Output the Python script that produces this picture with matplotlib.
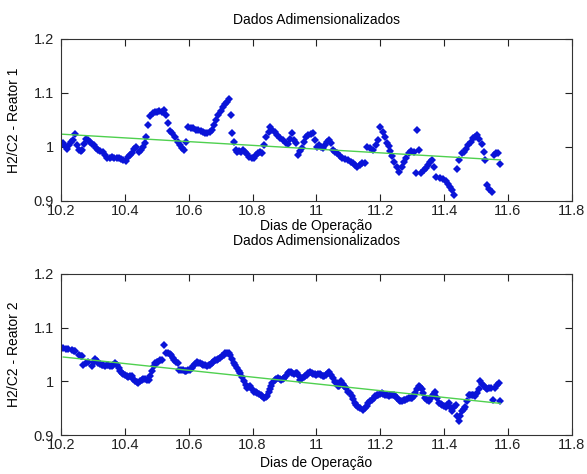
import numpy as np
import matplotlib
matplotlib.use("Agg")
import matplotlib.pyplot as plt
from matplotlib.ticker import FormatStrFormatter

# Reator 1 (dias, H2/C2 adimensional)
dias_r1 = [
    10.205, 10.212, 10.218, 10.225, 10.232, 10.238, 10.245, 10.250, 10.255, 10.261,
    10.266, 10.272, 10.278, 10.284, 10.290, 10.296, 10.302, 10.308, 10.315, 10.322,
    10.330, 10.337, 10.345, 10.352, 10.360, 10.367, 10.374, 10.381, 10.388, 10.395,
    10.402, 10.409, 10.416, 10.423, 10.430, 10.436, 10.443, 10.450, 10.456, 10.462,
    10.467, 10.472, 10.480, 10.487, 10.494, 10.501, 10.508, 10.515, 10.522, 10.528,
    10.535, 10.542, 10.548, 10.557, 10.565, 10.572, 10.580, 10.586, 10.592, 10.598,
    10.606, 10.614, 10.622, 10.630, 10.638, 10.645, 10.652, 10.658, 10.666, 10.673,
    10.679, 10.684, 10.692, 10.700, 10.708, 10.715, 10.720, 10.725, 10.731, 10.736,
    10.741, 10.747, 10.752, 10.758, 10.764, 10.770, 10.776, 10.782, 10.790, 10.797,
    10.804, 10.810, 10.816, 10.822, 10.829, 10.836, 10.843, 10.850, 10.856, 10.862,
    10.870, 10.877, 10.886, 10.896, 10.904, 10.910, 10.917, 10.924, 10.930, 10.935,
    10.943, 10.950, 10.956, 10.962, 10.968, 10.975, 10.982, 10.988, 10.995, 11.002,
    11.008, 11.015, 11.022, 11.028, 11.034, 11.040, 11.046, 11.053, 11.059, 11.066,
    11.073, 11.081, 11.090, 11.100, 11.108, 11.115, 11.122, 11.128, 11.136, 11.144,
    11.153, 11.160, 11.169, 11.178, 11.186, 11.194, 11.200, 11.208, 11.216, 11.222,
    11.227, 11.232, 11.237, 11.244, 11.252, 11.260, 11.267, 11.274, 11.282, 11.290,
    11.296, 11.305, 11.312, 11.316, 11.322, 11.328, 11.336, 11.343, 11.350, 11.356,
    11.362, 11.368, 11.375, 11.386, 11.397, 11.406, 11.413, 11.420, 11.425, 11.430,
    11.440, 11.448, 11.455, 11.462, 11.468, 11.476, 11.484, 11.490, 11.497, 11.503,
    11.510, 11.518, 11.524, 11.528, 11.534, 11.542, 11.550, 11.556, 11.563, 11.570,
    11.576,
]
h2c2_r1 = [
    1.007, 1.002, 0.997, 1.003, 1.009, 1.012, 1.024, 1.004, 0.995, 0.992,
    0.995, 1.006, 1.015, 1.012, 1.009, 1.006, 1.004, 0.998, 0.995, 0.993,
    0.990, 0.985, 0.979, 0.980, 0.981, 0.980, 0.979, 0.980, 0.978, 0.976,
    0.974, 0.981, 0.985, 0.989, 0.996, 0.999, 0.990, 0.994, 0.999, 1.008,
    1.018, 1.040, 1.058, 1.063, 1.064, 1.064, 1.066, 1.065, 1.068, 1.060,
    1.044, 1.030, 1.025, 1.018, 1.010, 1.004, 0.998, 0.994, 1.009, 1.036,
    1.035, 1.035, 1.032, 1.031, 1.029, 1.027, 1.026, 1.025, 1.028, 1.031,
    1.040, 1.049, 1.059, 1.066, 1.074, 1.079, 1.083, 1.088, 1.059, 1.025,
    1.009, 0.995, 0.990, 0.992, 0.990, 0.994, 0.990, 0.987, 0.981, 0.979,
    0.980, 0.985, 0.988, 0.990, 0.988, 1.003, 1.018, 1.028, 1.036, 1.031,
    1.027, 1.022, 1.016, 1.012, 1.007, 1.006, 1.014, 1.025, 1.012, 1.007,
    0.985, 0.992, 0.998, 1.010, 1.018, 1.023, 1.024, 1.025, 1.012, 0.999,
    1.003, 1.000, 0.998, 1.004, 1.009, 1.012, 1.008, 0.995, 0.990, 0.988,
    0.984, 0.979, 0.977, 0.975, 0.972, 0.970, 0.966, 0.962, 0.967, 0.970,
    0.970, 0.999, 0.998, 0.994, 1.004, 1.012, 1.036, 1.027, 1.019, 1.008,
    1.001, 0.992, 0.983, 0.972, 0.962, 0.954, 0.963, 0.972, 0.980, 0.988,
    0.993, 0.990, 0.951, 1.031, 0.994, 0.951, 0.957, 0.961, 0.966, 0.972,
    0.975, 0.962, 0.944, 0.943, 0.941, 0.937, 0.932, 0.925, 0.920, 0.911,
    0.960, 0.975, 0.988, 0.991, 0.997, 1.003, 1.010, 1.016, 1.019, 1.022,
    1.014, 1.005, 0.990, 0.975, 0.929, 0.922, 0.917, 0.985, 0.988, 0.988,
    0.969,
]

# Reator 2
dias_r2 = [
    10.207, 10.215, 10.223, 10.233, 10.240, 10.245, 10.255, 10.262, 10.266, 10.270,
    10.278, 10.286, 10.296, 10.302, 10.307, 10.312, 10.317, 10.323, 10.328, 10.333,
    10.338, 10.343, 10.348, 10.354, 10.359, 10.364, 10.369, 10.375, 10.380, 10.385,
    10.390, 10.395, 10.400, 10.406, 10.411, 10.416, 10.421, 10.426, 10.432, 10.437,
    10.442, 10.448, 10.453, 10.458, 10.463, 10.469, 10.474, 10.479, 10.484, 10.490,
    10.495, 10.500, 10.505, 10.511, 10.516, 10.523, 10.528, 10.534, 10.540, 10.545,
    10.550, 10.555, 10.561, 10.566, 10.571, 10.577, 10.582, 10.588, 10.593, 10.598,
    10.603, 10.609, 10.614, 10.620, 10.625, 10.630, 10.635, 10.641, 10.646, 10.651,
    10.656, 10.662, 10.667, 10.672, 10.677, 10.683, 10.688, 10.693, 10.698, 10.704,
    10.709, 10.714, 10.720, 10.725, 10.730, 10.736, 10.741, 10.746, 10.751, 10.757,
    10.762, 10.767, 10.772, 10.778, 10.783, 10.788, 10.793, 10.799, 10.804, 10.810,
    10.815, 10.820, 10.825, 10.831, 10.836, 10.841, 10.846, 10.851, 10.854, 10.858,
    10.862, 10.869, 10.875, 10.880, 10.885, 10.890, 10.895, 10.900, 10.905, 10.910,
    10.915, 10.920, 10.925, 10.930, 10.935, 10.940, 10.945, 10.950, 10.955, 10.960,
    10.965, 10.970, 10.975, 10.980, 10.985, 10.990, 10.995, 11.000, 11.005, 11.010,
    11.015, 11.020, 11.025, 11.030, 11.035, 11.040, 11.046, 11.052, 11.058, 11.063,
    11.068, 11.072, 11.077, 11.083, 11.088, 11.093, 11.099, 11.105, 11.110, 11.115,
    11.120, 11.125, 11.130, 11.138, 11.146, 11.152, 11.157, 11.163, 11.168, 11.174,
    11.179, 11.184, 11.189, 11.194, 11.200, 11.205, 11.210, 11.216, 11.221, 11.226,
    11.232, 11.237, 11.242, 11.247, 11.252, 11.258, 11.263, 11.268, 11.273, 11.279,
    11.284, 11.290, 11.295, 11.300, 11.305, 11.310, 11.315, 11.320, 11.325, 11.330,
    11.335, 11.340, 11.346, 11.352, 11.357, 11.363, 11.368, 11.373, 11.378, 11.383,
    11.389, 11.394, 11.400, 11.405, 11.410, 11.415, 11.420, 11.426, 11.430, 11.436,
    11.440, 11.446, 11.450, 11.455, 11.461, 11.467, 11.472, 11.477, 11.482, 11.487,
    11.492, 11.498, 11.503, 11.508, 11.514, 11.519, 11.524, 11.530, 11.535, 11.540,
    11.546, 11.554, 11.560, 11.566, 11.572, 11.576,
]
h2c2_r2 = [
    1.062, 1.061, 1.060, 1.059, 1.057, 1.056, 1.050, 1.047, 1.047, 1.031,
    1.034, 1.037, 1.028, 1.036, 1.042, 1.038, 1.035, 1.033, 1.031, 1.030,
    1.028, 1.030, 1.031, 1.029, 1.028, 1.031, 1.034, 1.030, 1.025, 1.020,
    1.016, 1.013, 1.012, 1.010, 1.009, 1.010, 1.011, 1.005, 1.000, 0.998,
    0.997, 1.001, 1.003, 1.004, 1.004, 1.003, 1.003, 1.011, 1.019, 1.028,
    1.034, 1.036, 1.037, 1.039, 1.040, 1.068, 1.052, 1.053, 1.051, 1.050,
    1.044, 1.040, 1.036, 1.034, 1.022, 1.022, 1.022, 1.020, 1.019, 1.021,
    1.022, 1.025, 1.028, 1.033, 1.037, 1.035, 1.034, 1.032, 1.031, 1.030,
    1.028, 1.030, 1.031, 1.034, 1.037, 1.039, 1.040, 1.042, 1.044, 1.047,
    1.050, 1.052, 1.053, 1.052, 1.050, 1.042, 1.034, 1.030, 1.025, 1.020,
    1.016, 1.008, 1.000, 0.993, 0.988, 0.990, 0.991, 0.986, 0.981, 0.980,
    0.978, 0.977, 0.975, 0.972, 0.969, 0.971, 0.972, 0.980, 0.985, 0.991,
    0.997, 1.003, 1.005, 1.006, 1.004, 1.003, 1.005, 1.006, 1.011, 1.016,
    1.017, 1.017, 1.015, 1.014, 1.015, 1.016, 1.010, 1.003, 1.006, 1.009,
    1.011, 1.012, 1.015, 1.017, 1.015, 1.014, 1.013, 1.012, 1.013, 1.014,
    1.012, 1.011, 1.011, 1.012, 1.015, 1.017, 1.012, 1.006, 0.999, 0.997,
    0.991, 0.991, 1.000, 0.996, 0.991, 0.988, 0.981, 0.978, 0.972, 0.967,
    0.960, 0.957, 0.953, 0.950, 0.947, 0.950, 0.955, 0.960, 0.963, 0.966,
    0.969, 0.972, 0.974, 0.975, 0.977, 0.978, 0.977, 0.975, 0.974, 0.972,
    0.974, 0.975, 0.974, 0.972, 0.969, 0.966, 0.964, 0.963, 0.965, 0.966,
    0.968, 0.969, 0.969, 0.969, 0.973, 0.978, 0.985, 0.992, 0.989, 0.986,
    0.978, 0.969, 0.966, 0.963, 0.967, 0.972, 0.977, 0.981, 0.970, 0.960,
    0.958, 0.957, 0.955, 0.953, 0.957, 0.960, 0.952, 0.944, 0.953, 0.957,
    0.935, 0.926, 0.935, 0.944, 0.949, 0.953, 0.964, 0.975, 0.975, 0.975,
    0.974, 0.972, 0.979, 0.985, 1.000, 0.995, 0.991, 0.988, 0.985, 0.987,
    0.988, 0.966, 0.988, 0.993, 0.997, 0.963,
]

x_ticks = [10.2, 10.4, 10.6, 10.8, 11.0, 11.2, 11.4, 11.6, 11.8]
y_ticks = [0.9, 1.0, 1.1, 1.2]

plt.rcParams["font.family"] = ["Liberation Sans", "DejaVu Sans"]
plt.rcParams["font.size"] = 10

fig = plt.figure(figsize=(5.87, 4.74), dpi=100)
ax1 = fig.add_axes([0.104, 0.576, 0.870, 0.342])
ax2 = fig.add_axes([0.104, 0.082, 0.870, 0.340])

panels = [
    (ax1, dias_r1, h2c2_r1, "H2/C2 - Reator 1", 11, 1),
    (ax2, dias_r2, h2c2_r2, "H2/C2 - Reator 2", 21, 3),
]
for ax, x, y, label, title_pad, xlab_pad in panels:
    x = np.asarray(x)
    y = np.asarray(y)
    ax.plot(x, y, linestyle="none", marker="D", markersize=3.7,
            color="#0a14d8", markeredgewidth=0)
    coef = np.polyfit(x, y, 1)
    xl = np.array([x.min(), x.max()])
    ax.plot(xl, np.polyval(coef, xl), color="#4fd04f", linewidth=1)
    ax.set_xlim(10.2, 11.8)
    ax.set_ylim(0.9, 1.2)
    ax.set_xticks(x_ticks)
    ax.set_yticks(y_ticks)
    ax.xaxis.set_major_formatter(FormatStrFormatter("%g"))
    ax.yaxis.set_major_formatter(FormatStrFormatter("%g"))
    ax.tick_params(direction="in", top=True, right=True, length=5,
                   width=0.8, labelsize=10.5, colors="#222222")
    ax.tick_params(axis="x", pad=2)
    ax.tick_params(axis="y", pad=5)
    for s in ax.spines.values():
        s.set_linewidth(0.8)
        s.set_color("#333333")
    ax.set_title("Dados Adimensionalizados", fontsize=10, pad=title_pad)
    ax.set_xlabel("Dias de Operação", fontsize=10, labelpad=xlab_pad)
    ax.set_ylabel(label, fontsize=10, labelpad=9)

fig.savefig("out.png", dpi=100)
